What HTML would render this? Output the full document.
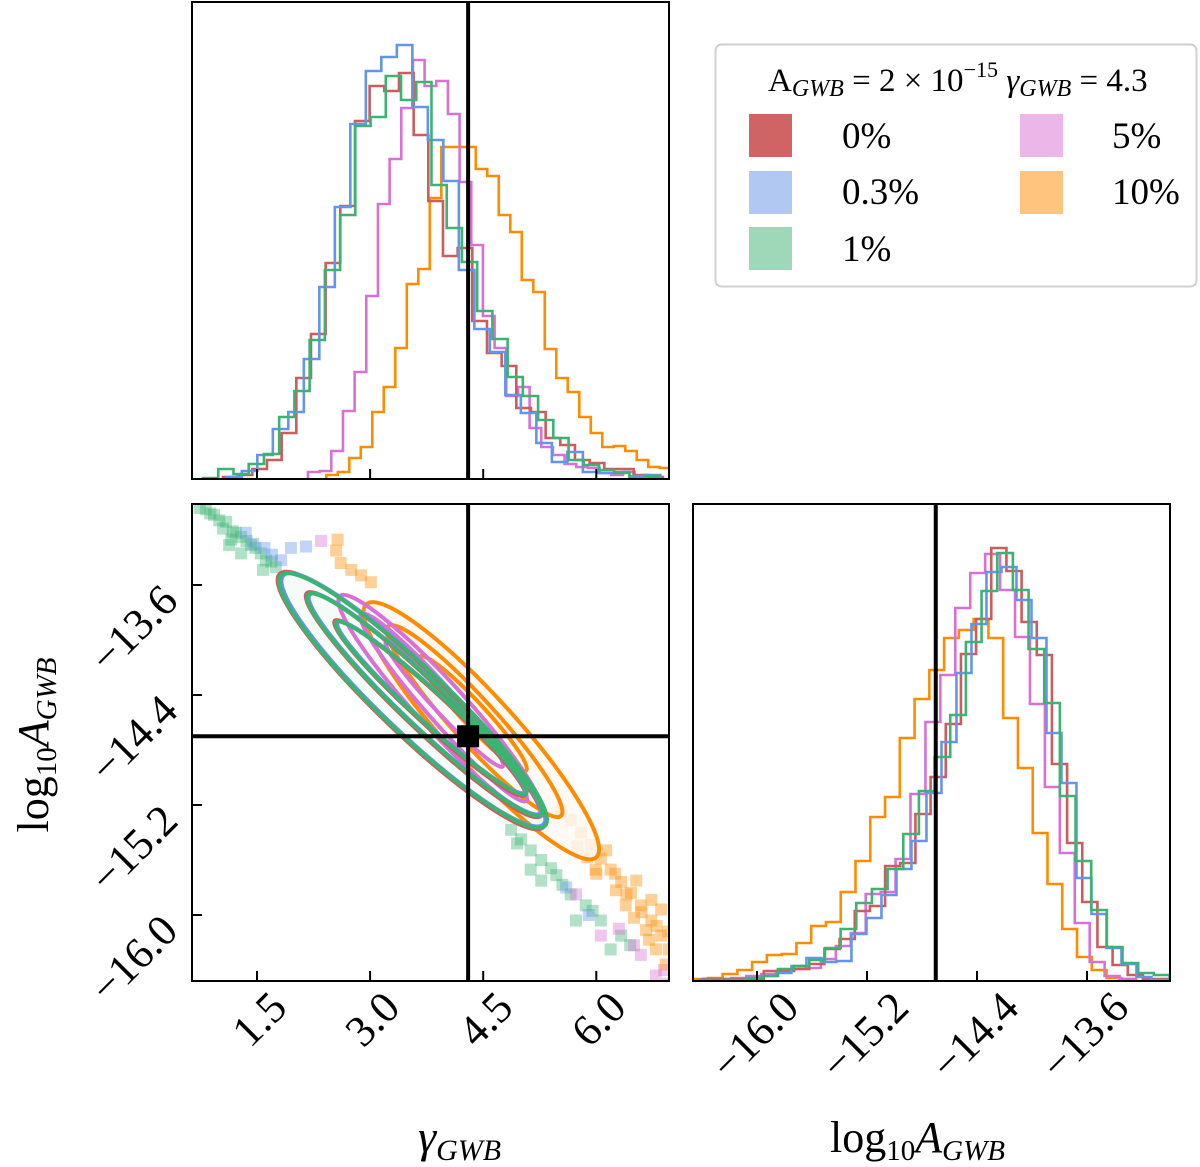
<!DOCTYPE html>
<html><head><meta charset="utf-8"><style>
html,body{margin:0;padding:0;background:#fff;}
svg{display:block;font-family:"Liberation Serif",serif;}
</style></head><body>
<svg id="fig" width="1200" height="1167" viewBox="0 0 1200 1167" xmlns="http://www.w3.org/2000/svg">
<defs>
<clipPath id="cTop"><rect x="192" y="2" width="477" height="477"/></clipPath>
<clipPath id="cBL"><rect x="192" y="504" width="477" height="477"/></clipPath>
<clipPath id="cBR"><rect x="693" y="504" width="477" height="477"/></clipPath>
</defs>
<g id="gTop" clip-path="url(#cTop)"></g>
<g id="gBL" clip-path="url(#cBL)"></g>
<g id="gBR" clip-path="url(#cBR)"></g>
<g id="gAxes"></g>

<g>
<rect x="715.5" y="44.5" width="481" height="242" rx="6" fill="#fff" stroke="#d0d0d0" stroke-width="2"/>
<text x="768" y="91" font-size="33">A<tspan font-style="italic" font-size="24" dy="5">GWB</tspan><tspan dy="-5"> = 2 × 10</tspan><tspan font-size="22" dy="-14">−15</tspan><tspan dy="14" font-style="italic"> γ</tspan><tspan font-style="italic" font-size="24" dy="5">GWB</tspan><tspan dy="-5"> = 4.3</tspan></text>
<g><rect x="749" y="114" width="43" height="43" fill="#cd5c5c" fill-opacity="0.95"/><text x="842" y="148" font-size="37">0%</text></g>
<g><rect x="749" y="171" width="43" height="43" fill="#b1c8f3"/><text x="842" y="204" font-size="37">0.3%</text></g>
<g><rect x="749" y="227" width="43" height="43" fill="#9fd8b8"/><text x="842" y="261" font-size="37">1%</text></g>
<g><rect x="1020" y="114" width="43" height="43" fill="#ecb7e8"/><text x="1112" y="148" font-size="37">5%</text></g>
<g><rect x="1020" y="171" width="43" height="43" fill="#ffc57f"/><text x="1112" y="204" font-size="37">10%</text></g>
</g>

<text x="418" y="1152" font-size="46" font-style="italic">γ<tspan font-size="30" dy="8">GWB</tspan></text>
<text x="830" y="1152" font-size="44">log<tspan font-size="29" dy="8">10</tspan><tspan dy="-8" font-style="italic">A</tspan><tspan font-style="italic" font-size="29" dy="8">GWB</tspan></text>
<text transform="translate(48,745) rotate(-90)" text-anchor="middle" font-size="44">log<tspan font-size="29" dy="8">10</tspan><tspan dy="-8" font-style="italic">A</tspan><tspan font-style="italic" font-size="29" dy="8">GWB</tspan></text>
</svg>
<script>
// ---------- data ----------
const seriesNames = ['0%','0.3%','1%','5%','10%'];
const seriesColors = ['#cd5c5c','#6495ed','#3cb371','#da70d6','#ff8c00'];
// gamma histograms: start (gamma), bin width, counts
const gStart = [1.049, 1.093, 0.784, 2.176, 2.419];
const gWidth = [0.1945, 0.2056, 0.202, 0.1547, 0.1525];
const gRed = [2,4,10,19,46,101,145,216,273,358,393,388,406,344,278,223,231,158,126,113,71,67,41,34,19,16,10,10,4,2];
const gBlue = [2,8,24,50,67,120,192,272,355,408,422,434,372,339,298,209,150,127,84,66,36,17,27,7,6,7,3,4];
const gGreen = [1,10,5,15,25,62,88,139,209,264,353,362,403,379,397,294,251,217,168,140,102,83,59,41,19,14,9,6,1,3];
const gMagenta = [7,8,28,68,107,183,275,320,371,419,393,398,365,297,234,163,131,83,92,51,32,24,15,12,11,6,4,7,2];
const gOrange = [4,7,21,32,67,92,131,195,210,281,332,332,332,310,303,264,247,199,187,130,101,87,62,46,32,33,28,19,12,11];
// log10 A histograms
const aStart = [-16.392, -16.404, -16.417, -16.404, -16.465];
const aWidth = [0.1103, 0.1091, 0.1139, 0.1086, 0.1074];
const aRed = [2,2,2,2,10,10,12,17,32,42,70,75,115,118,167,204,257,327,362,433,410,359,326,217,138,79,34,16,6,2,2];
const aBlue = [1,1,1,3,5,8,15,23,19,20,47,63,86,112,140,188,239,308,357,409,414,381,343,248,198,103,67,33,17,4,1];
const aGreen = [1,1,1,3,5,12,15,21,33,52,78,92,112,147,190,224,266,339,390,428,391,332,278,185,120,71,34,18,8,6];
const aMagenta = [2,2,3,5,7,10,12,13,22,35,48,87,89,122,187,259,306,373,408,427,391,344,277,194,128,58,19,5,2];
const aOrange = [2,3,7,11,19,26,27,38,55,59,89,120,164,184,243,282,311,343,351,362,343,263,213,148,97,52,24,11,3,2];
// contour ellipses: [gamma1, logA1, gamma2, logA2, minor/major]
const contRed = [[1.80,-13.52,5.30,-15.36,0.18],[2.16,-13.66,5.25,-15.28,0.14],[2.53,-13.86,5.05,-15.13,0.12]];
const contBlue = [[1.85,-13.53,5.30,-15.34,0.18],[2.20,-13.67,5.25,-15.26,0.14],[2.57,-13.87,5.05,-15.11,0.12]];
const contGreen = [[1.82,-13.53,5.32,-15.35,0.18],[2.18,-13.67,5.27,-15.27,0.14],[2.55,-13.87,5.07,-15.12,0.12]];
const contMagenta = [[2.60,-13.68,5.27,-15.28,0.16],[2.88,-13.81,5.07,-15.17,0.13],[3.21,-14.01,4.76,-14.92,0.12]];
const contOrange = [[2.95,-13.74,6.00,-15.58,0.20],[3.24,-13.90,5.53,-15.28,0.17],[3.66,-14.12,5.07,-14.95,0.15]];
// scatter samples outside contours (gamma, logA)
const ptsGreenG = [0.74,0.82,0.93,1.09,1.18,1.29,1.42,1.55,1.69,1.13,1.29,1.05,1.00,1.16,1.58,1.36,1.48,1.62,0.88,1.22,1.75,4.87,5.00,5.13,5.27,5.47,5.13,5.66,5.86,6.06,6.33,5.27,5.73,6.19,5.40,5.55,5.95,4.95,6.45];
const ptsGreenA = [-13.04,-13.05,-13.09,-13.14,-13.21,-13.25,-13.31,-13.37,-13.43,-13.31,-13.37,-13.19,-13.13,-13.27,-13.49,-13.28,-13.33,-13.42,-13.08,-13.22,-13.47,-15.38,-15.45,-15.53,-15.60,-15.71,-15.67,-15.85,-15.93,-16.04,-16.15,-15.75,-16.04,-16.25,-15.66,-15.78,-15.97,-15.48,-16.22];
const ptsBlueG = [1.95,2.15,1.82,1.35,1.60,1.45,1.70,5.60,5.90];
const ptsBlueA = [-13.33,-13.32,-13.42,-13.22,-13.33,-13.30,-13.38,-15.80,-16.00];
const ptsMagentaG = [6.06,6.59,6.79,5.73,2.35,6.90,6.30,6.50,6.95];
const ptsMagentaA = [-16.15,-16.29,-16.44,-15.85,-13.28,-16.40,-16.10,-16.22,-16.50];
const ptsOrangeG = [2.55,2.61,2.75,2.88,3.01,2.57,5.53,5.66,5.80,5.93,6.06,6.19,6.33,6.46,6.59,6.73,6.86,6.96,5.99,6.26,6.39,6.66,6.79,6.92,6.13,6.53,6.73,6.86,5.75,5.88,6.00,6.25,6.40,6.60,6.80,6.95,6.50,6.70];
const ptsOrangeA = [-13.35,-13.44,-13.49,-13.53,-13.58,-13.27,-15.24,-15.31,-15.40,-15.49,-15.59,-15.67,-15.76,-15.84,-15.93,-16.04,-16.15,-16.25,-15.67,-15.82,-15.93,-16.11,-16.25,-16.36,-15.53,-15.75,-15.89,-15.96,-15.50,-15.58,-15.70,-15.70,-15.85,-15.98,-16.08,-16.12,-16.02,-16.18];
const truthGamma = 4.3;
const truthLogA = -14.7;
const gammaTicks = [1.5, 3.0, 4.5, 6.0];
const gammaTickLabels = ['1.5','3.0','4.5','6.0'];
const aTicks = [-16.0, -15.2, -14.4, -13.6];
const aTickLabels = ['−16.0','−15.2','−14.4','−13.6'];

// ---------- scales ----------
const xG = g => 257 + (g - 1.5) * 75.4;          // gamma -> px (left column)
const yA = a => 585 - (a + 13.6) * 137.5;         // logA -> px (bottom row)
const xA = a => 757 + (a + 16.0) * 137.5;         // logA -> px (right column)
const yTopH = v => 479 - v;                        // count -> px (top hist)
const yBRH = v => 981 - v;                         // count -> px (BR hist)

const NS = 'http://www.w3.org/2000/svg';
function mk(tag, attrs, parent){ const e=document.createElementNS(NS,tag); for(const k in attrs) e.setAttribute(k,attrs[k]); parent.appendChild(e); return e; }

function stepPath(start, w, vals, xs, ys){
  let d = 'M' + xs(start) + ',' + ys(0);
  vals.forEach((v,i)=>{ const x0=xs(start+i*w), x1=xs(start+(i+1)*w); d += ' L'+x0+','+ys(v)+' L'+x1+','+ys(v); });
  d += ' L' + xs(start+vals.length*w) + ',' + ys(0);
  return d;
}
const gTop = document.getElementById('gTop'), gBL = document.getElementById('gBL'), gBR = document.getElementById('gBR'), gAx = document.getElementById('gAxes');

const topVals = [gRed, gBlue, gGreen, gMagenta, gOrange];
const brVals = [aRed, aBlue, aGreen, aMagenta, aOrange];
[4,3,0,1,2].forEach(i=>{
  const p = mk('path',{d:stepPath(gStart[i],gWidth[i],topVals[i],xG,yTopH),fill:'none',stroke:seriesColors[i],'stroke-width':2.6},gTop);
  
  
});
[4,3,0,1,2].forEach(i=>{
  const p = mk('path',{d:stepPath(aStart[i],aWidth[i],brVals[i],xA,yBRH),fill:'none',stroke:seriesColors[i],'stroke-width':2.6},gBR);
  
  
});

// scatter points
const ptSets = [[ptsGreenG,ptsGreenA,2],[ptsBlueG,ptsBlueA,1],[ptsMagentaG,ptsMagentaA,3],[ptsOrangeG,ptsOrangeA,4]];
ptSets.forEach(([G,A,ci])=>{
  G.forEach((g,k)=>{
    const r = mk('rect',{x:xG(g)-6,y:yA(A[k])-6,width:12,height:12,fill:seriesColors[ci],'fill-opacity':0.4},gBL);
    
    
  });
});
// contours
const conts = [contOrange, contMagenta, contRed, contBlue, contGreen];
const contIdx = [4,3,0,1,2];
function ellAttrs(c){
  const x1=xG(c[0]), y1=yA(c[1]), x2=xG(c[2]), y2=yA(c[3]);
  const cx=(x1+x2)/2, cy=(y1+y2)/2, L=Math.hypot(x2-x1,y2-y1)/2, ang=Math.atan2(y2-y1,x2-x1)*180/Math.PI;
  return {cx:cx,cy:cy,rx:L,ry:L*c[4],transform:'rotate('+ang+' '+cx+' '+cy+')'};
}
// pass 1: light fills
conts.forEach((set,j)=>{
  const ci = contIdx[j];
  const a = ellAttrs(set[0]);
  a.fill = '#ffffff'; a['fill-opacity'] = 0.8; a.stroke = 'none';
  const e = mk('ellipse', a, gBL);
  
  
  const a2 = ellAttrs(set[0]);
  a2.fill = seriesColors[ci]; a2['fill-opacity'] = 0.04; a2.stroke = 'none';
  const e2 = mk('ellipse', a2, gBL);
  
  
});
// pass 2: contour lines
conts.forEach((set,j)=>{
  const ci = contIdx[j];
  set.forEach((c,lv)=>{
    const a = ellAttrs(c);
    a.fill = 'none'; a.stroke = seriesColors[ci]; a['stroke-width'] = 4;
    const e = mk('ellipse', a, gBL);
    
    
  });
});
// truth lines
let t;
t = mk('line',{x1:xG(truthGamma),x2:xG(truthGamma),y1:2,y2:479,stroke:'#000','stroke-width':4},gTop);
 
t = mk('line',{x1:xG(truthGamma),x2:xG(truthGamma),y1:504,y2:981,stroke:'#000','stroke-width':4},gBL);
 
t = mk('line',{x1:192,x2:669,y1:yA(truthLogA),y2:yA(truthLogA),stroke:'#000','stroke-width':4},gBL);
 
t = mk('rect',{x:xG(truthGamma)-11,y:yA(truthLogA)-11,width:22,height:22,fill:'#000'},gBL);
 
t = mk('line',{x1:xA(truthLogA),x2:xA(truthLogA),y1:504,y2:981,stroke:'#000','stroke-width':4},gBR);
 

// frames
[[192,2],[192,504],[693,504]].forEach(([x,y])=>{
  const f = mk('rect',{x:x,y:y,width:477,height:477,fill:'none',stroke:'#000','stroke-width':2},gAx);
  
  
});
// ticks
gammaTicks.forEach((g,k)=>{
  mk('line',{x1:xG(g),x2:xG(g),y1:479,y2:469,stroke:'#000','stroke-width':2},gAx);
  mk('line',{x1:xG(g),x2:xG(g),y1:981,y2:971,stroke:'#000','stroke-width':2},gAx);
  const tx = mk('text',{x:0,y:0,'font-size':44,'text-anchor':'end',transform:'translate('+(xG(g)+32)+',1010) rotate(-45)'},gAx);
  tx.textContent = gammaTickLabels[k];
  
  
});
aTicks.forEach((a,k)=>{
  mk('line',{x1:192,x2:202,y1:yA(a),y2:yA(a),stroke:'#000','stroke-width':2},gAx);
  const ty = mk('text',{x:0,y:0,'font-size':44,'text-anchor':'end',transform:'translate(180,'+(yA(a)+18)+') rotate(-45)'},gAx);
  ty.textContent = aTickLabels[k];
  
  
  mk('line',{x1:xA(a),x2:xA(a),y1:981,y2:971,stroke:'#000','stroke-width':2},gAx);
  const tb = mk('text',{x:0,y:0,'font-size':44,'text-anchor':'end',transform:'translate('+(xA(a)+44)+',1010) rotate(-45)'},gAx);
  tb.textContent = aTickLabels[k];
  
  
});
</script>
</body></html>
